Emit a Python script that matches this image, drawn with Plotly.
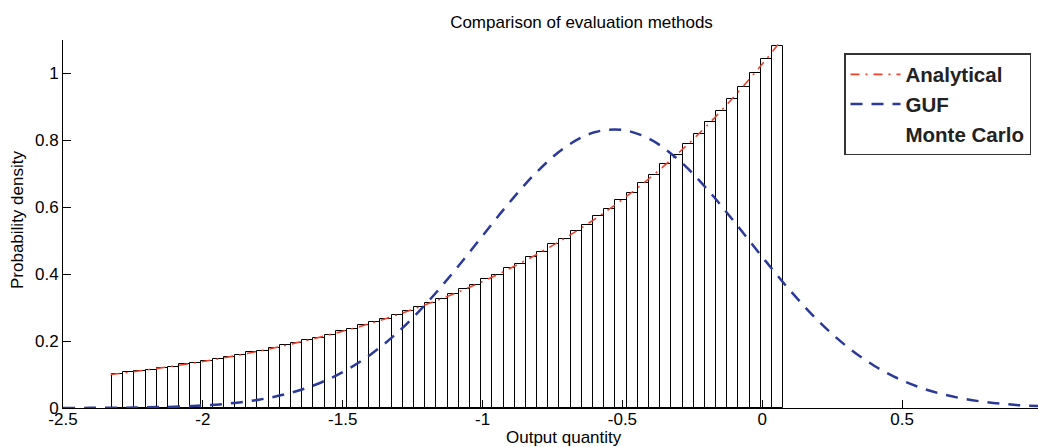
import numpy as np
import plotly.graph_objects as go

# Monte Carlo histogram: bin layout and bar heights (probability density)
bin_start = -2.325
bin_width = 0.04
mc_density = [
    0.103, 0.107, 0.110, 0.114, 0.121, 0.124, 0.131, 0.135, 0.140, 0.147,
    0.152, 0.159, 0.166, 0.171, 0.178, 0.187, 0.193, 0.204, 0.210, 0.217,
    0.229, 0.236, 0.248, 0.258, 0.266, 0.279, 0.291, 0.301, 0.315, 0.326,
    0.342, 0.355, 0.367, 0.385, 0.398, 0.417, 0.431, 0.452, 0.467, 0.489,
    0.505, 0.530, 0.548, 0.574, 0.594, 0.622, 0.643, 0.673, 0.697, 0.729,
    0.755, 0.789, 0.818, 0.855, 0.887, 0.925, 0.961, 1.002, 1.042, 1.082,
]

# Analytical PDF of the output quantity
analytical_x = [-2.33, -2.2, -2.0, -1.8, -1.6, -1.4, -1.2, -1.0, -0.8,
                -0.6, -0.4, -0.2, 0.0, 0.07]
analytical_y = [0.100, 0.114, 0.139, 0.170, 0.208, 0.253, 0.310, 0.378,
                0.462, 0.564, 0.689, 0.842, 1.028, 1.102]

# GUF (Gaussian) approximation
guf_x = [-2.5, -2.4, -2.3, -2.2, -2.1, -2.0, -1.9, -1.8, -1.7, -1.6, -1.5,
         -1.4, -1.3, -1.2, -1.1, -1.0, -0.9, -0.8, -0.7, -0.6, -0.5, -0.4,
         -0.3, -0.2, -0.1, 0.0, 0.1, 0.2, 0.3, 0.4, 0.5, 0.6, 0.7, 0.8,
         0.9, 1.0]
guf_y = [0.0002, 0.0004, 0.0009, 0.0019, 0.0039, 0.0075, 0.0139, 0.0248,
         0.0422, 0.0687, 0.1072, 0.1600, 0.2288, 0.3132, 0.4103, 0.5147,
         0.6181, 0.7106, 0.7821, 0.8241, 0.8313, 0.8028, 0.7422, 0.6570,
         0.5567, 0.4516, 0.3507, 0.2608, 0.1856, 0.1264, 0.0825, 0.0515,
         0.0308, 0.0176, 0.0097, 0.0051]

# Axis ticks
x_tickvals = [-2.5, -2.0, -1.5, -1.0, -0.5, 0.0, 0.5]
x_ticktext = ["-2.5", "-2", "-1.5", "-1", "-0.5", "0", "0.5"]
y_tickvals = [0, 0.2, 0.4, 0.6, 0.8, 1.0]
y_ticktext = ["0", "0.2", "0.4", "0.6", "0.8", "1"]

FONT = "Liberation Sans, Arial, Helvetica, sans-serif"
W, H = 1038, 447
ML, MR, MT, MB = 63, 0, 40, 39

bin_centers = bin_start + bin_width * (np.arange(len(mc_density)) + 0.5)

fig = go.Figure()

fig.add_trace(go.Bar(
    x=bin_centers, y=mc_density, width=bin_width,
    marker=dict(color="white", line=dict(color="black", width=1)),
    showlegend=False, hoverinfo="skip",
))

fig.add_trace(go.Scatter(
    x=analytical_x, y=analytical_y, mode="lines", name="Analytical",
    line=dict(color="#f0402a", width=1.6, dash="9px,6px,2px,6px",
              shape="spline"),
))

fig.add_trace(go.Scatter(
    x=guf_x, y=guf_y, mode="lines", name="GUF",
    line=dict(color="#2b3a98", width=2.5, dash="12px,9px", shape="spline"),
))

# Legend entry for the histogram (the bars carry no legend glyph)
fig.add_trace(go.Scatter(
    x=[None], y=[None], mode="lines", name="Monte Carlo",
    line=dict(color="rgba(0,0,0,0)", width=1),
))

plot_w = W - ML - MR
plot_h = H - MT - MB

def px_x(p):
    return (p - ML) / plot_w

def px_y(p):
    return (H - MB - p) / plot_h

fig.update_layout(
    width=W, height=H,
    margin=dict(l=ML, r=MR, t=MT, b=MB, pad=0),
    paper_bgcolor="white", plot_bgcolor="white",
    font=dict(family=FONT, size=17, color="black"),
    bargap=0,
    title=dict(text="Comparison of evaluation methods",
               font=dict(family=FONT, size=17, color="black"),
               xref="container", x=581.5 / W, xanchor="center",
               yref="container", y=1 - 22 / H, yanchor="middle"),
    xaxis=dict(range=[-2.5, -2.5 + plot_w / 279.7], showgrid=False,
               zeroline=False, showline=True, linecolor="black", linewidth=1,
               ticks="inside", ticklen=8, tickcolor="black", tickwidth=1,
               tickvals=x_tickvals, ticktext=x_ticktext,
               tickfont=dict(size=17), ticklabelstandoff=-4),
    yaxis=dict(range=[0, 1.1], showgrid=False, zeroline=False, showline=True,
               linecolor="black", linewidth=1, ticks="inside", ticklen=8,
               tickcolor="black", tickwidth=1,
               tickvals=y_tickvals, ticktext=y_ticktext,
               tickfont=dict(size=17)),
    legend=dict(x=px_x(844), y=px_y(53), xanchor="left", yanchor="top",
                bgcolor="white", bordercolor="#333333", borderwidth=1.5,
                font=dict(family=FONT, size=20.5, color="#222222",
                          weight="bold"),
                itemwidth=50, tracegroupgap=0),
    annotations=[
        dict(text="Output quantity", xref="paper", yref="paper",
             x=px_x(563.5), y=px_y(437), xanchor="center", yanchor="middle",
             showarrow=False, font=dict(size=17)),
        dict(text="Probability density", xref="paper", yref="paper",
             x=px_x(18), y=px_y(220), xanchor="center", yanchor="middle",
             textangle=-90, showarrow=False, font=dict(size=17)),
    ],
)

fig.write_html("out.html")
